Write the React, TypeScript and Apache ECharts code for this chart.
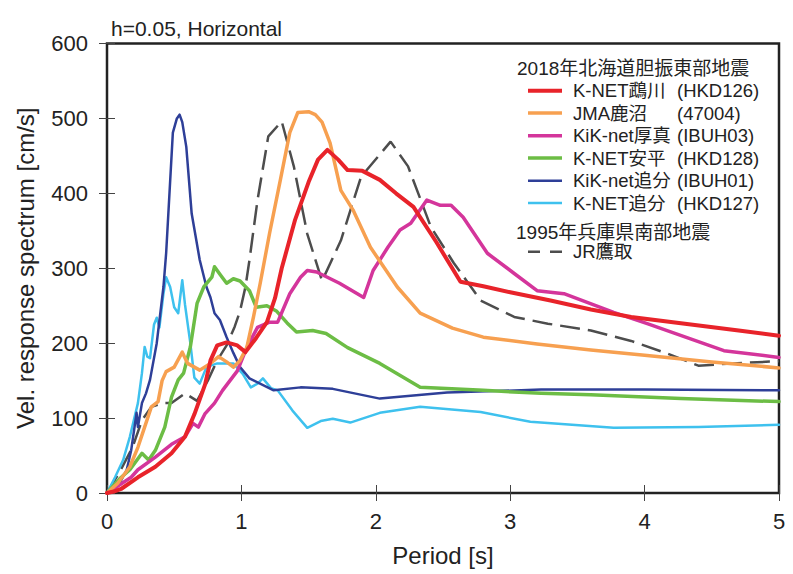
import React, { useEffect, useRef } from "react";
import * as echarts from "echarts";

// ---- Data ----
const xTicks = [0, 1, 2, 3, 4, 5];
const yTicks = [0, 100, 200, 300, 400, 500, 600];

const titleText = "h=0.05, Horizontal";
const group2018 = "2018年北海道胆振東部地震";
const group1995 = "1995年兵庫県南部地震";

const seriesNames = ["K-NET鵡川", "JMA鹿沼", "KiK-net厚真", "K-NET安平", "KiK-net追分", "K-NET追分"];
const seriesCodes = ["(HKD126)", "(47004)", "(IBUH03)", "(HKD128)", "(IBUH01)", "(HKD127)"];
const kobeName = "JR鷹取";

// K-NET鵡川 (HKD126)
const redT = [0, 0.05, 0.11, 0.23, 0.36, 0.48, 0.58, 0.65, 0.73, 0.77, 0.82, 0.89, 0.97, 1.03, 1.11, 1.19, 1.25, 1.3, 1.4, 1.5, 1.57, 1.64, 1.72, 1.79, 1.9, 2.03, 2.15, 2.28, 2.45, 2.63, 2.8, 3.0, 3.3, 3.6, 3.9, 4.3, 4.7, 5.0];
const redV = [0, 2, 6, 21, 35, 53, 75, 105, 145, 177, 197, 201, 197, 188, 207, 228, 260, 300, 365, 415, 445, 458, 445, 431, 430, 418, 400, 382, 335, 282, 276, 268, 257, 245, 235, 226, 217, 210];

// JMA鹿沼 (47004)
const orangeT = [0, 0.08, 0.17, 0.23, 0.28, 0.33, 0.38, 0.41, 0.44, 0.5, 0.56, 0.6, 0.69, 0.77, 0.83, 0.89, 0.94, 0.99, 1.04, 1.09, 1.14, 1.21, 1.29, 1.36, 1.42, 1.5, 1.55, 1.6, 1.66, 1.74, 1.83, 1.96, 2.16, 2.33, 2.57, 2.8, 3.2, 3.6, 4.0, 4.5, 5.0];
const orangeV = [0, 13, 35, 61, 88, 115, 122, 150, 162, 168, 188, 173, 164, 173, 182, 175, 168, 177, 194, 235, 280, 347, 418, 481, 508, 509, 505, 495, 467, 404, 378, 328, 275, 240, 220, 208, 199, 191, 184, 175, 167];

// KiK-net厚真 (IBUH03)
const magentaT = [0, 0.07, 0.18, 0.23, 0.36, 0.48, 0.58, 0.64, 0.68, 0.73, 0.8, 0.86, 0.97, 1.04, 1.12, 1.21, 1.27, 1.36, 1.44, 1.49, 1.56, 1.73, 1.91, 1.98, 2.09, 2.18, 2.26, 2.38, 2.48, 2.56, 2.65, 2.83, 3.03, 3.2, 3.4, 3.77, 4.02, 4.59, 5.0];
const magentaV = [0, 8, 21, 31, 48, 65, 75, 93, 88, 106, 120, 137, 163, 194, 221, 228, 228, 266, 288, 297, 295, 280, 261, 297, 328, 351, 360, 391, 384, 384, 368, 320, 293, 270, 266, 241, 226, 190, 181];

// K-NET安平 (HKD128)
const greenT = [0, 0.1, 0.17, 0.26, 0.31, 0.36, 0.43, 0.48, 0.53, 0.57, 0.62, 0.67, 0.72, 0.78, 0.8, 0.84, 0.89, 0.94, 0.99, 1.06, 1.11, 1.19, 1.26, 1.34, 1.41, 1.53, 1.63, 1.79, 2.03, 2.33, 2.8, 3.23, 3.6, 4.27, 5.0];
const greenV = [0, 20, 31, 53, 44, 57, 88, 128, 151, 160, 195, 253, 275, 288, 302, 292, 280, 286, 283, 270, 248, 250, 243, 227, 215, 217, 213, 194, 173, 141, 137, 133, 131, 126, 122];

// KiK-net追分 (IBUH01)
const blueT = [0, 0.1, 0.147, 0.18, 0.22, 0.23, 0.26, 0.29, 0.32, 0.37, 0.42, 0.44, 0.49, 0.52, 0.54, 0.56, 0.59, 0.63, 0.69, 0.74, 0.77, 0.8, 0.84, 0.89, 0.94, 0.99, 1.06, 1.24, 1.44, 1.68, 2.03, 2.53, 3.23, 4.0, 5.0];
const blueV = [0, 15, 31, 57, 107, 88, 120, 133, 151, 200, 275, 320, 481, 500, 505, 495, 462, 373, 311, 275, 261, 240, 231, 208, 187, 168, 153, 137, 141, 139, 126, 134, 138, 138, 137];

// K-NET追分 (HKD127)
const lightT = [0, 0.06, 0.12, 0.17, 0.23, 0.26, 0.28, 0.3, 0.32, 0.35, 0.37, 0.39, 0.42, 0.44, 0.47, 0.5, 0.53, 0.56, 0.58, 0.62, 0.65, 0.69, 0.74, 0.82, 0.94, 1.01, 1.07, 1.12, 1.16, 1.22, 1.27, 1.38, 1.49, 1.59, 1.68, 1.81, 2.03, 2.33, 2.78, 3.15, 3.77, 4.4, 5.0];
const lightV = [0, 21, 44, 75, 120, 160, 195, 182, 180, 225, 234, 221, 266, 288, 275, 248, 240, 284, 252, 200, 154, 146, 168, 173, 173, 159, 141, 146, 153, 140, 137, 110, 87, 96, 99, 94, 107, 115, 108, 95, 87, 88, 91];

// JR鷹取 (1995)
const kobeT = [0, 0.1, 0.19, 0.26, 0.33, 0.42, 0.48, 0.58, 0.67, 0.75, 0.82, 0.89, 0.95, 0.99, 1.03, 1.06, 1.12, 1.2, 1.3, 1.39, 1.49, 1.6, 1.74, 1.89, 2.11, 2.24, 2.41, 2.58, 2.78, 3.03, 3.28, 3.6, 3.9, 4.17, 4.4, 4.66, 5.0];
const kobeV = [0, 30, 61, 97, 115, 120, 120, 133, 123, 150, 177, 197, 222, 243, 275, 311, 391, 476, 496, 436, 346, 283, 337, 422, 469, 436, 355, 307, 257, 235, 226, 217, 203, 186, 170, 173, 176];

const colors = ["#e8232a", "#f7a050", "#d4359b", "#6cbd45", "#2e3f98", "#3ec1ee"];
const widths = [4, 3.5, 3.5, 3.5, 2.5, 2.5];
const kobeColor = "#4d4d4d";

const FONT = "'Liberation Sans', Arial, 'Noto Sans CJK JP', sans-serif";

function zip(t: number[], v: number[]) {
  return t.map((x, i) => [x, v[i]]);
}

export default function App() {
  const ref = useRef<HTMLDivElement>(null);
  useEffect(() => {
    if (!ref.current) return;
    const chart = echarts.init(ref.current, null, { renderer: "svg" });
    const allT = [redT, orangeT, magentaT, greenT, blueT, lightT];
    const allV = [redV, orangeV, magentaV, greenV, blueV, lightV];

    const lineSeries: any[] = [];
    lineSeries.push({
      name: kobeName,
      type: "line",
      data: zip(kobeT, kobeV),
      showSymbol: false,
      lineStyle: { color: kobeColor, width: 2.5, type: [20, 8] },
      z: 2,
    });
    for (let i = 5; i >= 0; i--) {
      lineSeries.push({
        name: seriesNames[i],
        type: "line",
        data: zip(allT[i], allV[i]),
        showSymbol: false,
        lineStyle: { color: colors[i], width: widths[i], join: "round", cap: "round" },
        z: 3 + (5 - i),
      });
    }

    const legendX0 = 528;
    const legendX1 = 562;
    const textX = 573;
    const codeX = 677;
    const rowY = [90.7, 113, 135.7, 158, 180.7, 203];
    const gfx: any[] = [];
    gfx.push({
      type: "text",
      x: 517,
      y: 68,
      style: { text: group2018, font: `19px ${FONT}`, fill: "#222", verticalAlign: "middle", textVerticalAlign: "middle" },
    });
    for (let i = 0; i < 6; i++) {
      gfx.push({
        type: "line",
        shape: { x1: legendX0, y1: rowY[i], x2: legendX1, y2: rowY[i] },
        style: { stroke: colors[i], lineWidth: widths[i] },
      });
      gfx.push({
        type: "text",
        x: textX,
        y: rowY[i],
        style: { text: seriesNames[i], font: `18.5px ${FONT}`, fill: "#222", textVerticalAlign: "middle", verticalAlign: "middle" },
      });
      gfx.push({
        type: "text",
        x: codeX,
        y: rowY[i],
        style: { text: seriesCodes[i], font: `18.5px ${FONT}`, fill: "#222", textVerticalAlign: "middle", verticalAlign: "middle" },
      });
    }
    gfx.push({
      type: "text",
      x: 516,
      y: 232.7,
      style: { text: group1995, font: `19px ${FONT}`, fill: "#222", verticalAlign: "middle", textVerticalAlign: "middle" },
    });
    gfx.push({
      type: "line",
      shape: { x1: legendX0, y1: 251.7, x2: legendX1, y2: 251.7 },
      style: { stroke: kobeColor, lineWidth: 2.5, lineDash: [12, 10] },
    });
    gfx.push({
      type: "text",
      x: textX,
      y: 251.7,
      style: { text: kobeName, font: `18.5px ${FONT}`, fill: "#222", verticalAlign: "middle", textVerticalAlign: "middle" },
    });

    const tickStyle = { show: true, inside: true, length: 8, lineStyle: { color: "#444", width: 1 } };
    const option: any = {
      animation: false,
      backgroundColor: "#ffffff",
      title: {
        text: titleText,
        left: 106,
        top: 13,
        textStyle: { fontFamily: FONT, fontSize: 21, fontWeight: "normal", color: "#222" },
      },
      grid: {
        left: 107,
        right: 14,
        top: 43.5,
        bottom: 81,
        show: true,
        borderColor: "#222",
        borderWidth: 2.5,
        backgroundColor: "transparent",
      },
      xAxis: [
        {
          type: "value",
          min: xTicks[0],
          max: xTicks[xTicks.length - 1],
          interval: 1,
          name: "Period [s]",
          nameLocation: "middle",
          nameGap: 50,
          nameTextStyle: { fontFamily: FONT, fontSize: 24, color: "#222" },
          axisLine: { show: false },
          axisTick: tickStyle,
          splitLine: { show: false },
          axisLabel: { fontFamily: FONT, fontSize: 22, color: "#222", margin: 17 },
        },
        {
          type: "value",
          position: "top",
          min: xTicks[0],
          max: xTicks[xTicks.length - 1],
          interval: 1,
          axisLine: { show: false },
          axisTick: tickStyle,
          splitLine: { show: false },
          axisLabel: { show: false },
        },
      ],
      yAxis: [
        {
          type: "value",
          min: yTicks[0],
          max: yTicks[yTicks.length - 1],
          interval: 100,
          name: "Vel. response spectrum [cm/s]",
          nameLocation: "middle",
          nameGap: 70,
          nameTextStyle: { fontFamily: FONT, fontSize: 24, color: "#222" },
          axisLine: { show: false },
          axisTick: tickStyle,
          splitLine: { show: false },
          axisLabel: { fontFamily: FONT, fontSize: 22, color: "#222", margin: 19 },
        },
        {
          type: "value",
          position: "right",
          min: yTicks[0],
          max: yTicks[yTicks.length - 1],
          interval: 100,
          axisLine: { show: false },
          axisTick: tickStyle,
          splitLine: { show: false },
          axisLabel: { show: false },
        },
      ],
      series: lineSeries,
      graphic: gfx,
    };
    chart.setOption(option);
    return () => chart.dispose();
  }, []);
  return (
    <div
      ref={ref}
      style={{ position: "fixed", left: 0, top: 0, width: 793, height: 574, background: "#fff" }}
    />
  );
}
